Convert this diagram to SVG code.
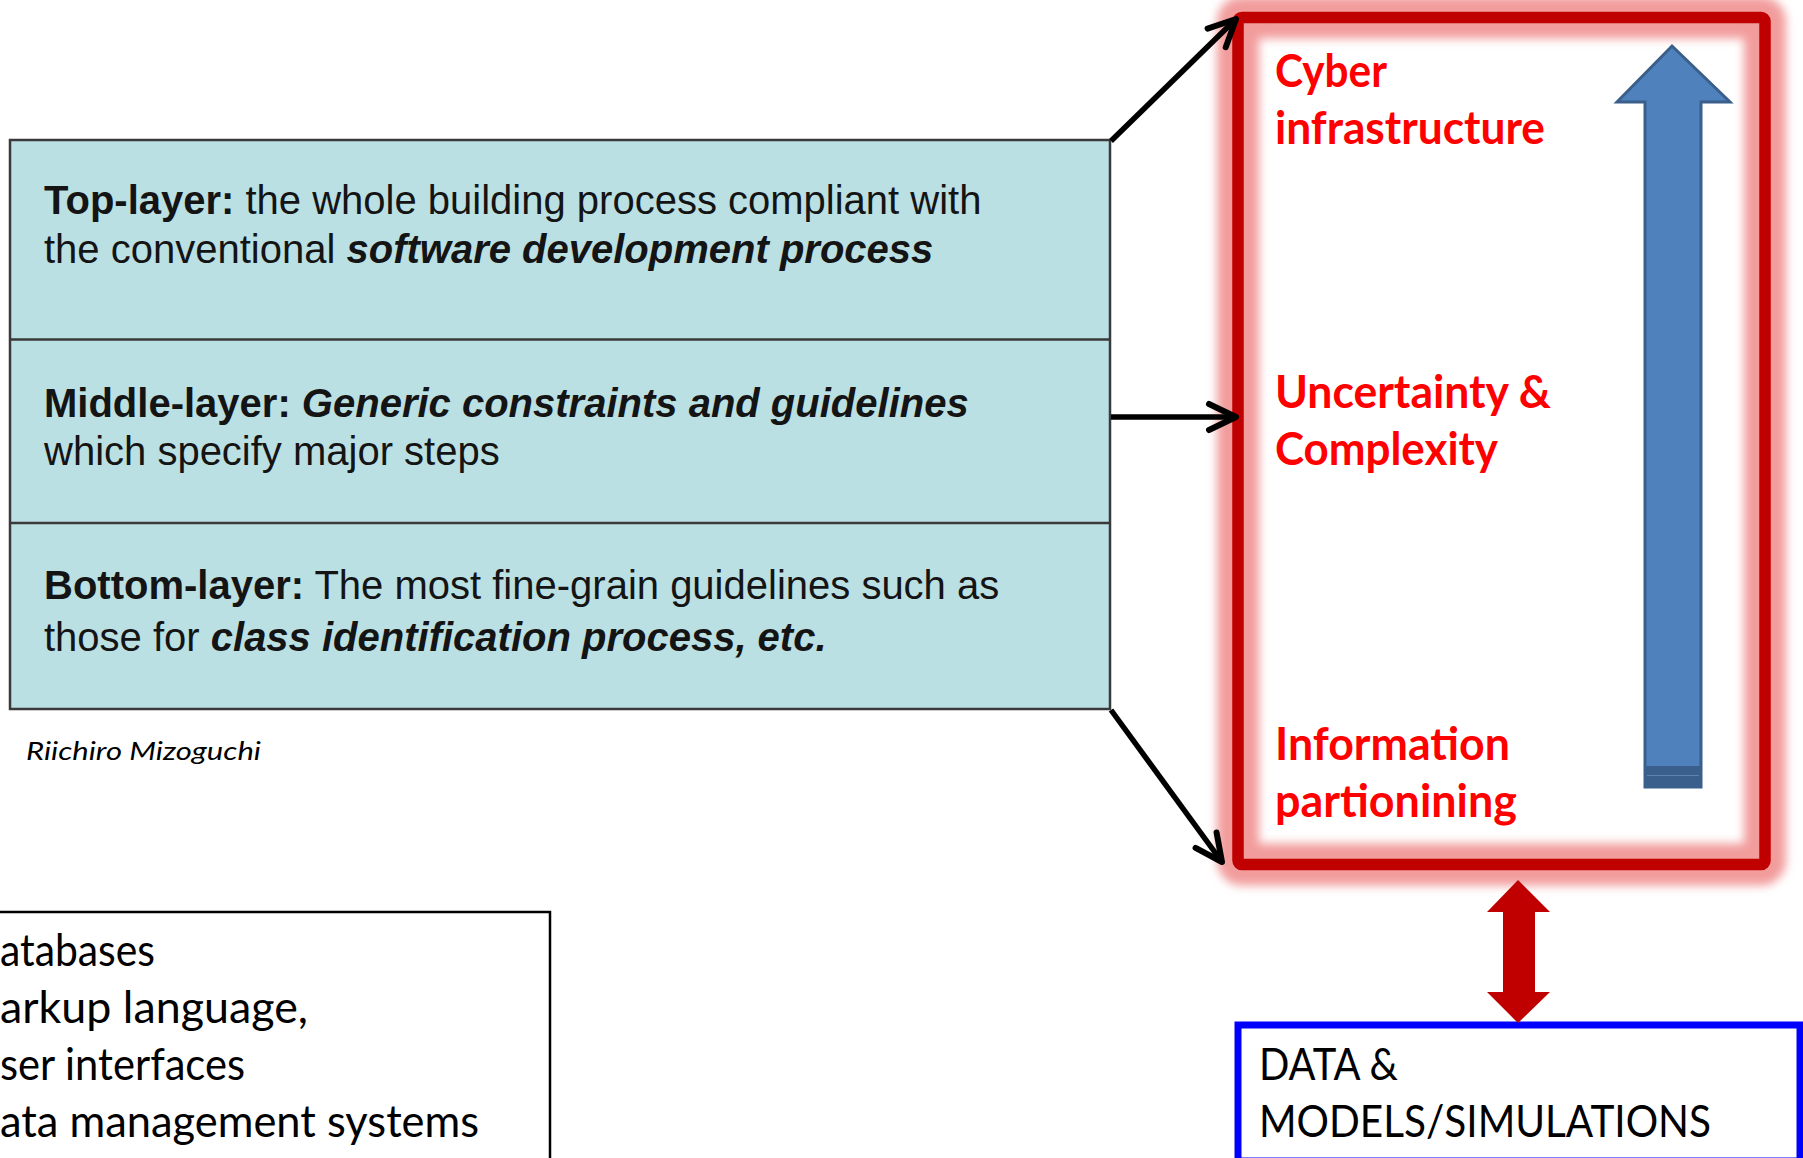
<svg xmlns="http://www.w3.org/2000/svg" width="1803" height="1158" viewBox="0 0 1803 1158">
<style>
.lt{font-family:"Liberation Sans",Arial,sans-serif;font-size:40px;fill:#141414}
.b{font-weight:bold}
.bi{font-weight:bold;font-style:italic}
.cal{font-family:Lato,"Open Sans",sans-serif;fill:#000}
.red{font-family:Lato,"Open Sans",sans-serif;font-weight:bold;font-size:45px;fill:#FF0000}
.conn{fill:none;stroke:#000;stroke-width:5.5;marker-end:url(#ah)}
</style>
<defs>
<marker id="ah" markerUnits="userSpaceOnUse" markerWidth="44" markerHeight="44" viewBox="-36 -22 44 44" refX="0" refY="0" orient="auto" overflow="visible">
<path d="M-27,-13 L0,0 L-27,13" fill="none" stroke="#000" stroke-width="6" stroke-linecap="round" stroke-linejoin="round"/>
</marker>
<filter id="glow" x="-20%" y="-20%" width="140%" height="140%">
<feGaussianBlur stdDeviation="5"/>
</filter>
</defs>
<rect width="1803" height="1158" fill="#fff"/>

<g id="node-layers">
<rect x="10" y="140" width="1100" height="569" fill="#BBE0E3" stroke="#3A3A3A" stroke-width="2.5"/>
<line x1="10" y1="339.5" x2="1110" y2="339.5" stroke="#3A3A3A" stroke-width="2.5"/>
<line x1="10" y1="523" x2="1110" y2="523" stroke="#3A3A3A" stroke-width="2.5"/>
<text class="lt" x="44" y="214"><tspan class="b">Top-layer:</tspan> the whole building process compliant with</text>
<text class="lt" x="44" y="263">the conventional <tspan class="bi">software development process</tspan></text>
<text class="lt" x="44" y="417"><tspan class="b">Middle-layer: </tspan><tspan class="bi">Generic constraints and guidelines</tspan></text>
<text class="lt" x="44" y="465">which specify major steps</text>
<text class="lt" x="44" y="599"><tspan class="b">Bottom-layer:</tspan> The most fine-grain guidelines such as</text>
<text class="lt" x="44" y="651">those for <tspan class="bi">class identification process, etc.</tspan></text>
</g>

<g id="node-credit">
<text class="cal" x="26" y="760" font-size="26" font-style="italic" textLength="235" lengthAdjust="spacingAndGlyphs">Riichiro Mizoguchi</text>
</g>

<g id="node-tech">
<rect x="-10" y="912" width="560" height="300" fill="#fff" stroke="#000" stroke-width="2.5"/>
<text class="cal" x="0" y="966" font-size="45" textLength="155" lengthAdjust="spacingAndGlyphs">atabases</text>
<text class="cal" x="0" y="1023" font-size="45" textLength="308" lengthAdjust="spacingAndGlyphs">arkup language,</text>
<text class="cal" x="0" y="1080" font-size="45" textLength="245" lengthAdjust="spacingAndGlyphs">ser interfaces</text>
<text class="cal" x="0" y="1137" font-size="45" textLength="479" lengthAdjust="spacingAndGlyphs">ata management systems</text>
</g>

<g id="node-cyber">
<rect x="1238" y="17.5" width="527" height="847" rx="4" fill="none" stroke="#F29C9C" stroke-width="42" filter="url(#glow)"/>
<rect x="1238" y="17.5" width="527" height="847" rx="4" fill="none" stroke="#C00000" stroke-width="11.5"/>
<polygon points="1672,46 1730,102 1701,102 1701,787 1645,787 1645,102 1617,102" fill="#4F81BD" stroke="#3A5F8B" stroke-width="3" stroke-linejoin="miter"/>
<rect x="1645" y="766" width="56" height="21" fill="#3B5F8C"/>
<line x1="1647" y1="775.5" x2="1699" y2="775.5" stroke="#5D82B0" stroke-width="1"/>
<text class="red" x="1275" y="87" textLength="112" lengthAdjust="spacingAndGlyphs">Cyber</text>
<text class="red" x="1275" y="144" textLength="270" lengthAdjust="spacingAndGlyphs">infrastructure</text>
<text class="red" x="1275" y="408" textLength="276" lengthAdjust="spacingAndGlyphs">Uncertainty &amp;</text>
<text class="red" x="1275" y="465" textLength="223" lengthAdjust="spacingAndGlyphs">Complexity</text>
<text class="red" x="1275" y="760" textLength="235" lengthAdjust="spacingAndGlyphs">Information</text>
<text class="red" x="1275" y="817" textLength="242" lengthAdjust="spacingAndGlyphs">partionining</text>
</g>

<g id="node-data">
<rect x="1238" y="1025" width="562" height="136" fill="#fff" stroke="#0000FF" stroke-width="7"/>
<text class="cal" x="1259" y="1080" font-size="45" textLength="139" lengthAdjust="spacingAndGlyphs">DATA &amp;</text>
<text class="cal" x="1259" y="1137" font-size="45" textLength="452" lengthAdjust="spacingAndGlyphs">MODELS/SIMULATIONS</text>
</g>

<g id="connectors">
<path class="conn" d="M1111,141 L1236,19"/>
<path class="conn" d="M1111,417 L1236,417"/>
<path class="conn" d="M1111,710 L1222,862"/>
<polygon points="1518,880 1550,912 1535,912 1535,992 1550,992 1518,1023 1487,992 1503,992 1503,912 1487,912" fill="#C00000"/>
</g>
</svg>
